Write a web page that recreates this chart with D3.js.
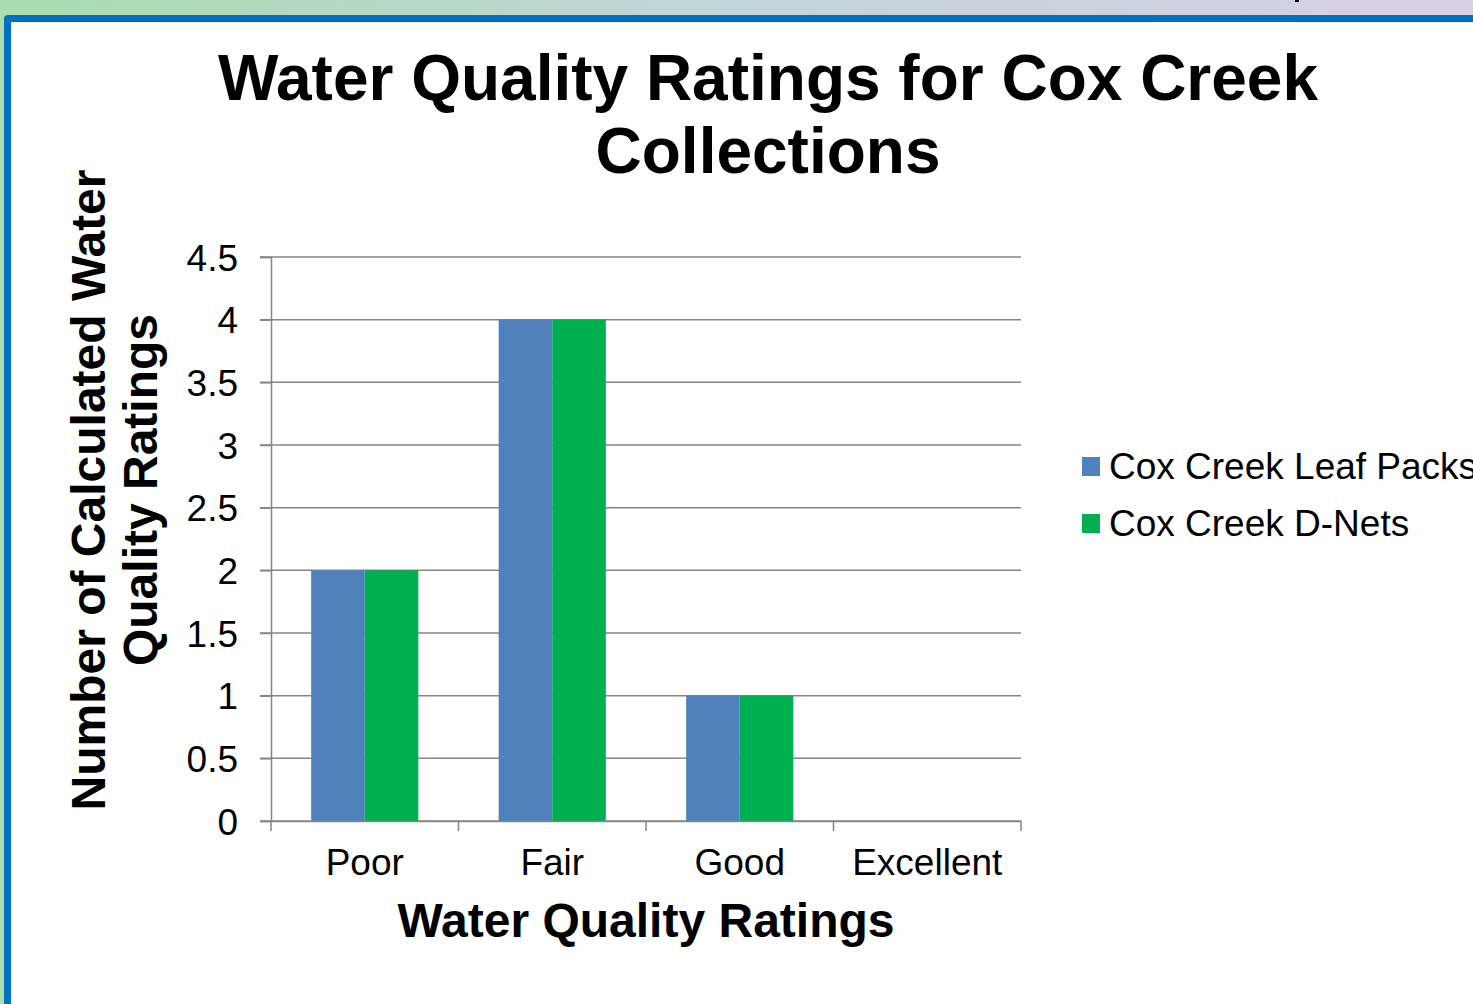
<!DOCTYPE html>
<html><head><meta charset="utf-8">
<script src="https://cdn.jsdelivr.net/npm/d3@7"></script>
<style>body{margin:0;overflow:hidden;background:#fff}</style>
</head><body>
<script>
const categories = ["Poor", "Fair", "Good", "Excellent"];
const seriesNames = ["Cox Creek Leaf Packs", "Cox Creek D-Nets"];
const leafPacks = [2, 4, 1, 0];
const dNets = [2, 4, 1, 0];
const yTicks = [0, 0.5, 1, 1.5, 2, 2.5, 3, 3.5, 4, 4.5];
const colors = ["#4f81bd", "#00b050"];

const W = 1473, H = 1004;
const svg = d3.select("body").append("svg").attr("width", W).attr("height", H)
  .style("font-family", "'Liberation Sans', Arial, sans-serif");

// background
const defs = svg.append("defs");
const g1 = defs.append("linearGradient").attr("id", "bg").attr("x1", "0").attr("x2", "1").attr("y1", "0").attr("y2", "0");
g1.append("stop").attr("offset", "0").attr("stop-color", "#a9ddad");
g1.append("stop").attr("offset", "0.5").attr("stop-color", "#c3d4da");
g1.append("stop").attr("offset", "1").attr("stop-color", "#d8d0e4");
svg.append("rect").attr("width", W).attr("height", H).attr("fill", "url(#bg)");
svg.append("rect").attr("x", 1295).attr("y", 0).attr("width", 4).attr("height", 2).attr("fill", "#000");
svg.append("rect").attr("x", 4).attr("y", 15).attr("width", W + 20).attr("height", H + 20)
  .attr("rx", 4).attr("fill", "#0070c0");
svg.append("rect").attr("x", 11).attr("y", 22).attr("width", W + 20).attr("height", H + 20).attr("fill", "#fff");

const x0 = 271, x1 = 1021, yTop = 257, yBot = 821;
const x = d3.scaleBand().domain(categories).range([x0, x1]).paddingInner(0).paddingOuter(0);
const xs = d3.scaleBand().domain(seriesNames).range([0, x.bandwidth()]).paddingInner(0).paddingOuter(0.75);
const y = d3.scaleLinear().domain([0, 4.5]).range([yBot, yTop]);

// gridlines
svg.append("g").selectAll("line").data(yTicks).join("line")
  .attr("x1", 260).attr("x2", x1).attr("y1", d => y(d)).attr("y2", d => y(d))
  .attr("stroke", "#868686").attr("stroke-width", 1.5);

// bars
const data = categories.map((c, i) => ({c, vals: [leafPacks[i], dNets[i]]}));
const grp = svg.append("g").selectAll("g").data(data).join("g")
  .attr("transform", d => `translate(${x(d.c)},0)`);
grp.selectAll("rect").data(d => d.vals.map((v, j) => ({v, s: seriesNames[j], j})))
  .join("rect")
  .attr("x", d => xs(d.s)).attr("width", xs.bandwidth())
  .attr("y", d => y(d.v)).attr("height", d => yBot - y(d.v))
  .attr("fill", d => colors[d.j]);

// y axis
const yAxis = svg.append("g").attr("transform", `translate(${x0},0)`)
  .call(d3.axisLeft(y).tickValues(yTicks).tickFormat(d3.format("")).tickSize(11).tickPadding(22));
yAxis.select(".domain").attr("stroke", "#868686").attr("stroke-width", 1.5);
yAxis.selectAll(".tick line").attr("stroke", "#868686").attr("stroke-width", 1.5);
yAxis.selectAll("text").attr("font-size", 37).attr("fill", "#000").attr("font-family", "'Liberation Sans', Arial, sans-serif").attr("dy", "0.36em");

// x axis
const xAxis = svg.append("g").attr("transform", `translate(0,${yBot})`)
  .call(d3.axisBottom(x).tickSize(0).tickPadding(28));
xAxis.select(".domain").attr("stroke", "#868686").attr("stroke-width", 1.5);
xAxis.selectAll("text").attr("font-size", 37).attr("fill", "#000").attr("font-family", "'Liberation Sans', Arial, sans-serif");
const bounds = [...categories.map(c => x(c)), x1];
svg.append("g").selectAll("line").data(bounds).join("line")
  .attr("x1", d => d).attr("x2", d => d).attr("y1", yBot).attr("y2", yBot + 10)
  .attr("stroke", "#868686").attr("stroke-width", 1.5);

// title
const title = svg.append("text").attr("text-anchor", "middle").attr("font-weight", "bold").attr("font-size", 64).attr("fill", "#000");
title.append("tspan").attr("x", 768).attr("y", 100).text("Water Quality Ratings for Cox Creek");
title.append("tspan").attr("x", 768).attr("y", 173).text("Collections");

// axis titles
svg.append("text").attr("x", 646).attr("y", 937).attr("text-anchor", "middle")
  .attr("font-weight", "bold").attr("font-size", 48).text("Water Quality Ratings");
const yt = svg.append("text").attr("transform", "translate(0,490) rotate(-90)")
  .attr("text-anchor", "middle").attr("font-weight", "bold").attr("font-size", 48);
yt.append("tspan").attr("x", 0).attr("y", 105).text("Number of Calculated Water");
yt.append("tspan").attr("x", 0).attr("y", 157).text("Quality Ratings");

// legend
const lg = svg.append("g").selectAll("g").data(seriesNames).join("g")
  .attr("transform", (d, i) => `translate(1082,${457 + i * 57})`);
lg.append("rect").attr("width", 18).attr("height", 19).attr("fill", (d, i) => colors[i]);
lg.append("text").attr("x", 27).attr("y", 22).attr("font-size", 37).text(d => d);
</script>
</body></html>
